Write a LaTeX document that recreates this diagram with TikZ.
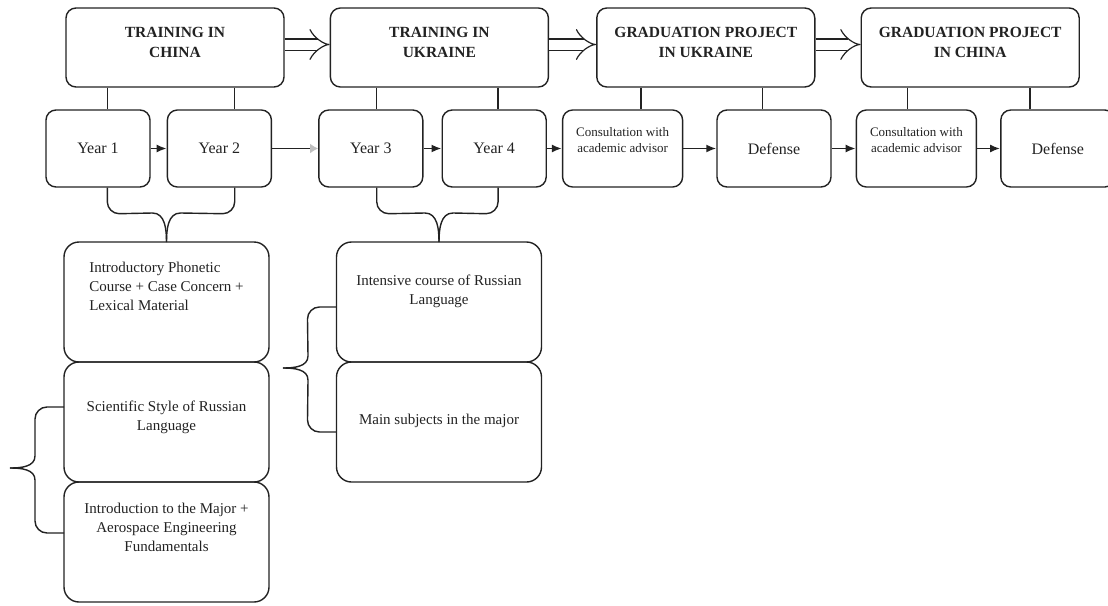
\documentclass[tikz,border=0pt]{standalone}
\usepackage{fontspec}
\setmainfont{Liberation Serif}
\usetikzlibrary{arrows.meta,positioning,calc}
\definecolor{ink}{HTML}{222222}

\begin{document}
\begin{tikzpicture}[x=1pt,y=-1pt,
 stage/.style={draw=ink,text=ink,line width=1.4pt,rounded corners=10pt,align=center,
 minimum width=218pt,minimum height=79pt,inner ysep=0pt,text height=49pt,
 text depth=30pt,font=\bfseries\fontsize{15.5}{20}\selectfont},
 yearbox/.style={draw=ink,text=ink,line width=1.4pt,rounded corners=10pt,align=center,
 minimum width=104pt,minimum height=77pt,font=\fontsize{16}{19}\selectfont},
 consult/.style={yearbox,minimum width=120pt,inner ysep=0pt,text height=42pt,
 text depth=35pt,font=\fontsize{13}{16}\selectfont},
 course/.style={draw=ink,text=ink,line width=1.4pt,rounded corners=15pt,align=center,
 minimum width=205pt,minimum height=120pt,outer sep=0pt,inner ysep=0pt,
 font=\fontsize{15}{19}\selectfont},
 txtat/.style 2 args={text height=#1,text depth=#2},
 link/.style={draw=ink,line width=1.4pt},
 arr/.style={-{Latex[length=10pt,width=8pt]},line width=1.8pt,draw=ink},
 dbl/.style={double=white,draw=ink,double distance=10pt,line width=1.2pt,-{Implies}}]
 \useasboundingbox (0,0) rectangle (1108,605);
 \node[stage] (t1) at (175,47.5) {TRAINING IN\\CHINA};
 \node[stage,right=45pt of t1] (t2) {TRAINING IN\\UKRAINE};
 \node[stage,right=47pt of t2] (t3) {GRADUATION PROJECT\\IN UKRAINE};
 \node[stage,right=45pt of t3] (t4) {GRADUATION PROJECT\\IN CHINA};
 \node[yearbox] (y1) at (98,148.5) {Year 1};
 \node[yearbox,right=16pt of y1] (y2) {Year 2};
 \node[yearbox,right=46pt of y2] (y3) {Year 3};
 \node[yearbox,right=18pt of y3] (y4) {Year 4};
 \node[consult,right=15pt of y4] (c1) {Consultation with\\academic advisor};
 \node[yearbox,minimum width=114pt,right=33pt of c1] (d1) {Defense};
 \node[consult,right=24pt of d1] (c2) {Consultation with\\academic advisor};
 \node[yearbox,minimum width=114pt,right=23pt of c2] (d2) {Defense};
 \node[course,align=left,txtat={68pt}{52pt}] (la) at (166.5,302)
 {Introductory Phonetic\\Course + Case Concern +\\Lexical Material};
 \node[course,txtat={68pt}{52pt},below=0pt of la] (lb)
 {Scientific Style of Russian\\Language};
 \node[course,txtat={69pt}{51pt},below=0pt of lb] (lc)
 {Introduction to the Major +\\Aerospace Engineering\\Fundamentals};
 \node[course,txtat={62pt}{58pt}] (rd) at (439,302)
 {Intensive course of Russian\\Language};
 \node[course,txtat={62pt}{58pt},below=0pt of rd] (re)
 {Main subjects in the major};
 \coordinate (k1) at ([xshift=42pt]t1.south west);
 \coordinate (k2) at ([xshift=-50pt]t1.south east);
 \coordinate (k3) at ([xshift=47pt]t2.south west);
 \coordinate (k4) at ([xshift=-51pt]t2.south east);
 \coordinate (k5) at ([xshift=45pt]t3.south west);
 \coordinate (k6) at ([xshift=-53pt]t3.south east);
 \coordinate (k7) at ([xshift=47pt]t4.south west);
 \coordinate (k8) at ([xshift=-50pt]t4.south east);
 \coordinate (lt) at (10,468);
 \coordinate (rt) at (283,368);
 \draw[dbl] ([yshift=3pt]t1.east) -- ([yshift=3pt]t2.west);
 \draw[dbl] ([yshift=3pt]t2.east) -- ([yshift=3pt]t3.west);
 \draw[dbl] ([yshift=3pt]t3.east) -- ([yshift=3pt]t4.west);
 \draw[link] (k1) -- (k1 |- y1.north);
 \draw[link] (k2) -- (k2 |- y2.north);
 \draw[link] (k3) -- (k3 |- y3.north);
 \draw[link] (k4) -- (k4 |- y4.north);
 \draw[link] (k5) -- (k5 |- c1.north);
 \draw[link] (k6) -- (k6 |- d1.north);
 \draw[link] (k7) -- (k7 |- c2.north);
 \draw[link] (k8) -- (k8 |- d2.north);
 \draw[arr] (y1) -- (y2);
 \draw[arr,-{Latex[length=8pt,width=10pt,black!25]}] (y2) -- (y3);
 \draw[arr] (y3) -- (y4);
 \draw[arr] (y4) -- (c1);
 \draw[arr] (c1) -- (d1);
 \draw[arr] (d1) -- (c2);
 \draw[arr] (c2) -- (d2);
 \draw[link] (k1 |- y1.south) -- ++(0,14) to[out=-90,in=180] ++(12,12)
 -- ([xshift=-14pt,yshift=29pt]la.north) to[out=0,in=90] (la.north);
 \draw[link] (k2 |- y2.south) -- ++(0,14) to[out=-90,in=0] ++(-12,12)
 -- ([xshift=14pt,yshift=29pt]la.north) to[out=180,in=90] (la.north);
 \draw[link] (k3 |- y3.south) -- ++(0,14) to[out=-90,in=180] ++(12,12)
 -- ([xshift=-14pt,yshift=29pt]rd.north) to[out=0,in=90] (rd.north);
 \draw[link] (k4 |- y4.south) -- ++(0,14) to[out=-90,in=0] ++(-12,12)
 -- ([xshift=14pt,yshift=29pt]rd.north) to[out=180,in=90] (rd.north);
 \draw[link] ([yshift=-45pt]lb.north west) -- ++(-17,0) to[out=180,in=90] ++(-12,12)
 -- ([xshift=25pt,yshift=12pt]lt) to[out=-90,in=0] (lt);
 \draw[link] ([yshift=-51pt]lc.north west) -- ++(-17,0) to[out=180,in=-90] ++(-12,-12)
 -- ([xshift=25pt,yshift=-12pt]lt) to[out=90,in=0] (lt);
 \draw[link] ([yshift=-65pt]rd.north west) -- ++(-17,0) to[out=180,in=90] ++(-12,12)
 -- ([xshift=25pt,yshift=12pt]rt) to[out=-90,in=0] (rt);
 \draw[link] ([yshift=-70pt]re.north west) -- ++(-17,0) to[out=180,in=-90] ++(-12,-12)
 -- ([xshift=25pt,yshift=-12pt]rt) to[out=90,in=0] (rt);
\end{tikzpicture}
\end{document}
